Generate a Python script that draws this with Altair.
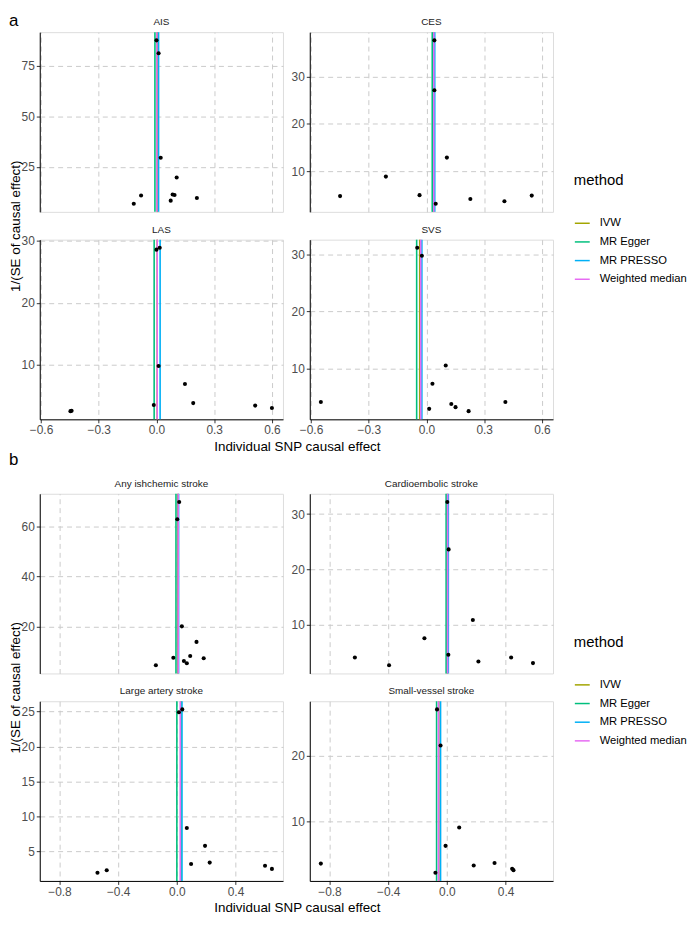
import altair as alt
import pandas as pd

FONT = "Liberation Sans"

methods = ["IVW", "MR Egger", "MR PRESSO", "Weighted median"]
method_colors = ["#A3A500", "#00BF7D", "#00B0F6", "#E76BF3"]

# ---------------- panel a ----------------
ais_x = [0.000, 0.011, 0.022, 0.105, -0.080, -0.118, 0.084, 0.094, 0.074, 0.210]
ais_y = [87.5, 81.1, 29.6, 19.8, 10.9, 6.9, 11.4, 11.2, 8.4, 9.7]
ais_est = [0.004, -0.008, 0.011, 0.002]
ais_ticks = [25, 50, 75]

ces_x = [0.041, 0.041, 0.106, -0.211, -0.449, -0.036, 0.048, 0.228, 0.405, 0.547]
ces_y = [37.6, 27.1, 12.9, 8.9, 4.8, 5.0, 3.2, 4.2, 3.7, 4.9]
ces_est = [0.036, 0.030, 0.043, 0.038]
ces_ticks = [10, 20, 30]

las_x = [0.000, 0.017, 0.011, -0.014, 0.148, 0.191, -0.447, -0.441, 0.513, 0.600]
las_y = [28.6, 28.9, 9.8, 3.5, 6.9, 3.8, 2.5, 2.55, 3.4, 3.0]
las_est = [0.004, -0.012, 0.019, 0.004]
las_ticks = [10, 20, 30]

svs_x = [-0.048, -0.024, 0.100, 0.031, 0.014, 0.129, 0.151, 0.219, 0.410, -0.549]
svs_y = [31.1, 29.7, 10.5, 7.3, 2.9, 3.75, 3.2, 2.5, 4.1, 4.1]
svs_est = [-0.035, -0.051, -0.024, -0.030]
svs_ticks = [10, 20, 30]

a_xticks = [-0.6, -0.3, 0.0, 0.3, 0.6]

# ---------------- panel b ----------------
any_x = [0.016, 0.003, 0.034, 0.134, -0.024, -0.143, 0.048, 0.068, 0.091, 0.183]
any_y = [69.7, 62.8, 20.2, 14.0, 7.7, 4.7, 6.4, 5.5, 8.4, 7.5]
any_est = [0.006, -0.006, 0.012, 0.009]
any_ticks = [20, 40, 60]

ce_x = [0.003, 0.012, 0.177, -0.153, -0.627, -0.394, 0.010, 0.215, 0.438, 0.587]
ce_y = [32.2, 23.6, 10.8, 7.5, 4.0, 2.6, 4.5, 3.3, 4.0, 3.0]
ce_est = [0.004, -0.005, 0.010, 0.005]
ce_ticks = [10, 20, 30]

la_x = [0.014, 0.037, 0.068, 0.192, 0.097, 0.224, -0.541, -0.478, 0.601, 0.648]
la_y = [24.9, 25.3, 8.35, 5.8, 3.2, 3.4, 1.95, 2.3, 2.95, 2.5]
la_est = [0.028, 0.000, 0.035, 0.023]
la_ticks = [5, 10, 15, 20, 25]

sv_x = [-0.067, -0.043, 0.084, -0.009, 0.183, 0.325, 0.445, 0.454, -0.078, -0.859]
sv_y = [27.1, 21.6, 9.1, 6.3, 3.3, 3.7, 2.8, 2.6, 2.2, 3.6]
sv_est = [-0.055, -0.070, -0.043, -0.057]
sv_ticks = [10, 20]

b_xticks = [-0.8, -0.4, 0.0, 0.4]

PW, PH = 245, 181
COLGAP, ROWGAP, BLOCKGAP = 27, 28, 75
BLOCK_STEP = 2 * PH + ROWGAP + BLOCKGAP   # flush layout: distance between block origins

GRID = dict(grid=True, gridColor="#CBCBCB", gridDash=[5, 4], gridWidth=1)
LAB = dict(labelFont=FONT, labelFontSize=12, labelColor="#4D4D4D", labelPadding=2)
TIT = dict(titleFont=FONT, titleFontWeight="normal", titleColor="black")


def expand(vals):
    lo, hi = min(vals), max(vals)
    r = hi - lo
    return [lo - 0.05 * r, hi + 0.05 * r]


def panel(name, xs, ys, est, yticks, xdom, xticks, row, col, tag=None, tag_y=-6):
    pts = pd.DataFrame({"x": xs, "y": ys})
    lines = pd.DataFrame({"method": methods, "est": est})
    if row == 1:
        xaxis_kw = dict(orient="bottom", values=xticks, format=".1f", domain=True,
                        domainColor="black", domainWidth=1, ticks=True, tickSize=3.5,
                        tickColor="#333333", **GRID, **LAB, **TIT)
        if col == 0:
            xaxis = alt.Axis(title="Individual SNP causal effect", titleX=PW + COLGAP / 2 + 0.5,
                             titleY=27, titleAlign="center", titleBaseline="middle",
                             titleFontSize=13.5, **xaxis_kw)
        else:
            xaxis = alt.Axis(title=None, **xaxis_kw)
    else:
        xaxis = alt.Axis(orient="top", values=xticks, labels=False, ticks=False, domain=False,
                         title=None, **GRID)

    yaxis_kw = dict(orient="left", values=yticks, format="d", domain=True, domainColor="black",
                    domainWidth=1, ticks=True, tickSize=3.5, tickColor="#333333", **GRID, **LAB)
    if row == 0 and col == 0:
        yaxis = alt.Axis(title="1/(SE of causal effect)", titleX=-24, titleY=PH + ROWGAP / 2,
                         titleAngle=270, titleAlign="center", titleBaseline="middle",
                         titleFontSize=13.5, **TIT, **yaxis_kw)
    else:
        yaxis = alt.Axis(title=None, **yaxis_kw)

    xscale = alt.Scale(domain=xdom, nice=False, zero=False)
    yscale = alt.Scale(domain=expand(ys), nice=False, zero=False)

    legend = alt.Legend(orient="none", legendX=538, legendY=142, title="method",
                        titleFont=FONT, titleFontSize=15, titleFontWeight="normal",
                        titleColor="black", titlePadding=27, labelFont=FONT, labelFontSize=11.3,
                        labelColor="black", labelOffset=9, symbolType="stroke", symbolSize=225,
                        symbolStrokeWidth=1.5, rowPadding=4.8, padding=0)

    rules = alt.Chart(lines).mark_rule(strokeWidth=1.6).encode(
        x=alt.X("est:Q", scale=xscale, axis=xaxis),
        color=alt.Color("method:N", scale=alt.Scale(domain=methods, range=method_colors),
                        legend=legend),
    )
    points = alt.Chart(pts).mark_circle(size=17, color="black", opacity=1).encode(
        x=alt.X("x:Q", scale=xscale, axis=xaxis),
        y=alt.Y("y:Q", scale=yscale, axis=yaxis),
    )
    strip = alt.Chart(pd.DataFrame({"label": [name]})).mark_text(
        font=FONT, fontSize=10, color="#1A1A1A", align="center", baseline="alphabetic"
    ).encode(text="label:N", x=alt.value(PW / 2), y=alt.value(-7))
    layers = [rules, points, strip]
    if tag:
        layers.append(
            alt.Chart(pd.DataFrame({"label": [tag]})).mark_text(
                font=FONT, fontSize=17, color="black", align="left", baseline="alphabetic"
            ).encode(text="label:N", x=alt.value(-31), y=alt.value(tag_y))
        )
    return alt.layer(*layers).properties(width=PW, height=PH)


a_dom = expand(ais_x + ces_x + las_x + svs_x)
b_dom = expand(any_x + ce_x + la_x + sv_x)

block_a = alt.concat(
    panel("AIS", ais_x, ais_y, ais_est, ais_ticks, a_dom, a_xticks, 0, 0, tag="a", tag_y=-6),
    panel("CES", ces_x, ces_y, ces_est, ces_ticks, a_dom, a_xticks, 0, 1),
    panel("LAS", las_x, las_y, las_est, las_ticks, a_dom, a_xticks, 1, 0),
    panel("SVS", svs_x, svs_y, svs_est, svs_ticks, a_dom, a_xticks, 1, 1),
    columns=2, spacing={"row": ROWGAP, "column": COLGAP}, bounds="flush",
).resolve_scale(x="independent", y="independent")

block_b = alt.concat(
    panel("Any ishchemic stroke", any_x, any_y, any_est, any_ticks, b_dom, b_xticks, 0, 0,
          tag="b", tag_y=-29),
    panel("Cardioembolic stroke", ce_x, ce_y, ce_est, ce_ticks, b_dom, b_xticks, 0, 1),
    panel("Large artery stroke", la_x, la_y, la_est, la_ticks, b_dom, b_xticks, 1, 0),
    panel("Small-vessel stroke", sv_x, sv_y, sv_est, sv_ticks, b_dom, b_xticks, 1, 1),
    columns=2, spacing={"row": ROWGAP, "column": COLGAP}, bounds="flush",
).resolve_scale(x="independent", y="independent")

chart = (
    alt.vconcat(block_a, block_b, spacing=BLOCK_STEP, bounds="flush")
    .resolve_scale(color="independent")
    .properties(padding={"left": 0, "top": 0, "right": 1, "bottom": 1})
    .configure_view(stroke=None)
    .configure(font=FONT)
)

chart.save("out.html", embed_options={"renderer": "svg", "actions": False})
